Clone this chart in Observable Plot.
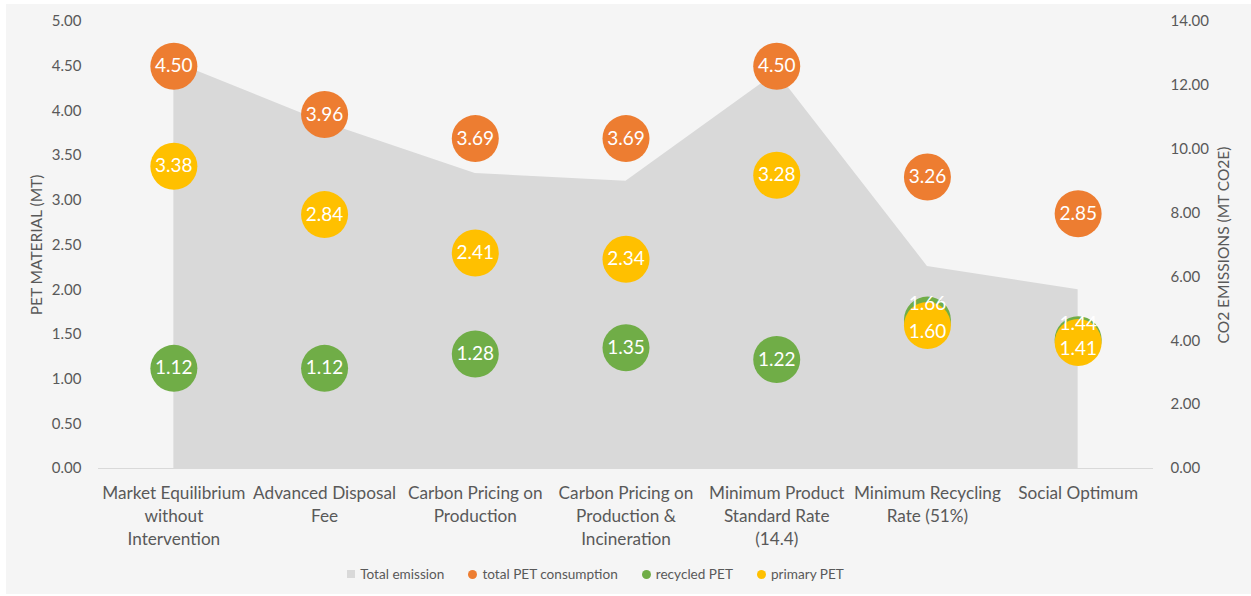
<!DOCTYPE html>
<html>
<head>
<meta charset="utf-8">
<script src="https://cdn.jsdelivr.net/npm/d3@7"></script>
<script src="https://cdn.jsdelivr.net/npm/@observablehq/plot@0.6"></script>
<style>
  html, body { margin: 0; padding: 0; background: #ffffff; width: 1251px; height: 596px; overflow: hidden; }
  #bg { position: absolute; left: 6px; top: 4px; right: 0; bottom: 2px; background: #f5f5f5; }
  #chart { position: absolute; left: 0; top: 0; }
  #legend { position: absolute; left: 0; top: 562px; width: 1251px; height: 24px; display: flex; justify-content: center; align-items: center;
            font-family: Lato, sans-serif; font-size: 13.6px; color: #595959; }
  #legend .item { display: flex; align-items: center; margin: 0 12px; }
  #legend .sw { display: inline-block; margin-right: 5px; }
</style>
</head>
<body>
<div id="bg"></div>
<div id="chart"></div>
<div id="legend"></div>
<script>
// ---- data ----
const categories = [
  "Market Equilibrium without Intervention",
  "Advanced Disposal Fee",
  "Carbon Pricing on Production",
  "Carbon Pricing on Production & Incineration",
  "Minimum Product Standard Rate (14.4)",
  "Minimum Recycling Rate (51%)",
  "Social Optimum"
];
const categoryTickLabels = [
  "Market Equilibrium\nwithout\nIntervention",
  "Advanced Disposal\nFee",
  "Carbon Pricing on\nProduction",
  "Carbon Pricing on\nProduction &\nIncineration",
  "Minimum Product\nStandard Rate\n(14.4)",
  "Minimum Recycling\nRate (51%)",
  "Social Optimum"
];
const totalEmission = [12.74, 10.84, 9.24, 9.00, 12.40, 6.33, 5.60];   // MT CO2e (right axis)
const totalPET     = [4.50, 3.96, 3.69, 3.69, 4.50, 3.26, 2.85];       // MT (left axis)
const recycledPET  = [1.12, 1.12, 1.28, 1.35, 1.22, 1.66, 1.44];
const primaryPET   = [3.38, 2.84, 2.41, 2.34, 3.28, 1.60, 1.41];
const leftTicks  = [0, 0.5, 1, 1.5, 2, 2.5, 3, 3.5, 4, 4.5, 5];
const rightTicks = [0, 2, 4, 6, 8, 10, 12, 14];
const leftMax = 5, rightMax = 14;
const seriesNames = ["Total emission", "total PET consumption", "recycled PET", "primary PET"];
const seriesColors = ["#d9d9d9", "#ed7d31", "#70ad47", "#ffc000"];

// ---- table ----
const rows = categories.map((c, i) => ({
  i, cat: c,
  emission: totalEmission[i],
  total: totalPET[i],
  recycled: recycledPET[i],
  primary: primaryPET[i]
}));
const toLeft = v => v * leftMax / rightMax;
const labelMap = new Map(categories.map((c, i) => [c, categoryTickLabels[i]]));
// categories where recycled and primary bubbles overlap (labels nudged apart)
const overlap = d => Math.abs(d.recycled - d.primary) < 0.2;

const font = "Lato, sans-serif";
const grey = "#595959";
const R = 23.5;
const lblSize = 19;

const chart = Plot.plot({
  width: 1251,
  height: 555,
  marginLeft: 98,
  marginRight: 98,
  marginTop: 21,
  marginBottom: 87,
  style: { background: "transparent", fontFamily: font },
  x: { type: "point", domain: categories, padding: 0.5, round: false, axis: null },
  y: { domain: [0, leftMax], axis: null },
  marks: [
    Plot.areaY(rows, { x: "cat", y: d => toLeft(d.emission), fill: seriesColors[0] }),
    Plot.ruleY([0], { stroke: "#d9d9d9", strokeWidth: 1 }),
    Plot.axisY({ ticks: leftTicks, tickSize: 0, tickPadding: 17, tickFormat: d => d.toFixed(2),
                 color: grey, fontSize: 15, fontFamily: font, label: null }),
    Plot.axisY({ anchor: "right", ticks: rightTicks.map(toLeft), tickSize: 0, tickPadding: 17,
                 tickFormat: d => (d * rightMax / leftMax).toFixed(2),
                 color: grey, fontSize: 15, fontFamily: font, label: null }),
    Plot.axisX({ tickSize: 0, tickPadding: 14, tickFormat: d => labelMap.get(d),
                 color: grey, fontSize: 17.2, fontFamily: font, lineHeight: 1.34, label: null }),
    Plot.text(["PET MATERIAL (MT)"], { frameAnchor: "left", dx: -61, rotate: -90, fill: grey,
                 fontSize: 15.5, fontFamily: font, textAnchor: "middle" }),
    Plot.text(["CO2 EMISSIONS (MT CO2E)"], { frameAnchor: "right", dx: 71, rotate: -90, fill: grey,
                 fontSize: 15.5, fontFamily: font, textAnchor: "middle" }),
    Plot.dot(rows, { x: "cat", y: "total", r: R, fill: seriesColors[1], stroke: "none" }),
    Plot.dot(rows, { x: "cat", y: "recycled", r: R, fill: seriesColors[2], stroke: "none" }),
    Plot.dot(rows, { x: "cat", y: "primary", r: R, fill: seriesColors[3], stroke: "none" }),
    Plot.text(rows, { x: "cat", y: "total", text: d => d.total.toFixed(2), fill: "white", fontSize: lblSize, fontFamily: font }),
    Plot.text(rows.filter(d => !overlap(d)), { x: "cat", y: "recycled", text: d => d.recycled.toFixed(2), fill: "white", fontSize: lblSize, fontFamily: font }),
    Plot.text(rows.filter(d => !overlap(d)), { x: "cat", y: "primary", text: d => d.primary.toFixed(2), fill: "white", fontSize: lblSize, fontFamily: font }),
    Plot.text(rows.filter(overlap), { x: "cat", y: "recycled", dy: -16, text: d => d.recycled.toFixed(2), fill: "white", fontSize: lblSize, fontFamily: font }),
    Plot.text(rows.filter(overlap), { x: "cat", y: "primary", dy: 6, text: d => d.primary.toFixed(2), fill: "white", fontSize: lblSize, fontFamily: font })
  ]
});
document.getElementById("chart").appendChild(chart);

// ---- legend ----
const legend = document.getElementById("legend");
legend.style.paddingRight = "60px";
legend.style.boxSizing = "border-box";
seriesNames.forEach((name, k) => {
  const item = document.createElement("span");
  item.className = "item";
  const sw = document.createElement("span");
  sw.className = "sw";
  sw.style.background = seriesColors[k];
  if (k === 0) { sw.style.width = "8px"; sw.style.height = "8px"; }
  else { sw.style.width = "9px"; sw.style.height = "9px"; sw.style.borderRadius = "50%"; }
  item.appendChild(sw);
  item.appendChild(document.createTextNode(name));
  legend.appendChild(item);
});
</script>
</body>
</html>
